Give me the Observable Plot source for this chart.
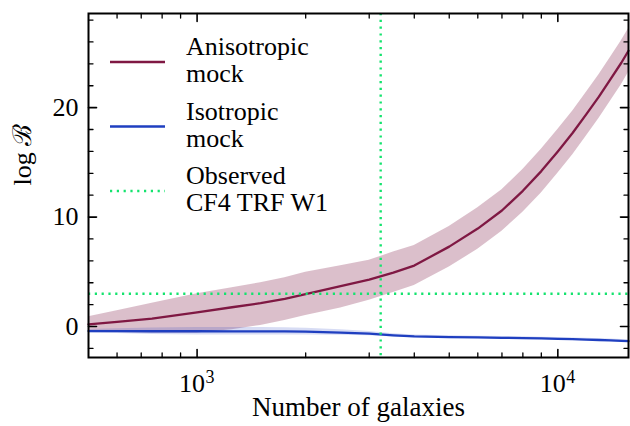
<!DOCTYPE html>
<html><head><meta charset="utf-8">
<script src="https://cdn.jsdelivr.net/npm/d3@7"></script>
<script src="https://cdn.jsdelivr.net/npm/@observablehq/plot@0.6"></script>
<style>
body{margin:0;background:#fff}
#chart{position:relative;width:630px;height:426px}
</style>
</head><body><div id="chart"></div>
<script>
// ---- data ----
const nGal      = [500, 600, 750, 1000, 1250, 1500, 1750, 2000, 2500, 3000, 3500, 4000, 5000, 6000, 7000, 8000, 9000, 10000, 11000, 12000, 13000, 14000, 15000, 15700];
const anisoMean = [0.2, 0.43, 0.72, 1.3, 1.76, 2.13, 2.53, 2.95, 3.69, 4.28, 4.93, 5.57, 7.3, 8.95, 10.6, 12.4, 14.2, 16.0, 17.7, 19.4, 21.0, 22.6, 24.1, 25.2];
const anisoLo   = [-0.5, -0.55, -0.6, -0.6, -0.3, 0.1, 0.55, 1.0, 1.7, 2.4, 3.1, 3.74, 5.45, 7.05, 8.7, 10.45, 12.2, 14.0, 15.7, 17.4, 19.0, 20.6, 22.1, 23.2];
const anisoHi   = [0.9, 1.45, 2.12, 3.0, 3.55, 4.0, 4.45, 4.96, 5.55, 6.05, 6.8, 7.4, 9.15, 10.85, 12.5, 14.35, 16.2, 18.0, 19.7, 21.4, 23.0, 24.6, 26.1, 27.2];
const isoMean   = [-0.42, -0.42, -0.43, -0.43, -0.44, -0.44, -0.45, -0.46, -0.55, -0.65, -0.8, -0.9, -0.96, -1.0, -1.03, -1.06, -1.09, -1.12, -1.16, -1.2, -1.23, -1.27, -1.31, -1.34];
const isoLo     = [-0.57, -0.64, -0.72, -0.78, -0.78, -0.78, -0.78, -0.77, -0.8, -0.85, -0.95, -1.03, -1.08, -1.12, -1.15, -1.18, -1.21, -1.24, -1.28, -1.32, -1.35, -1.39, -1.43, -1.46];
const isoHi     = [-0.27, -0.2, -0.14, -0.08, -0.1, -0.1, -0.12, -0.15, -0.3, -0.45, -0.65, -0.77, -0.84, -0.88, -0.91, -0.94, -0.97, -1.0, -1.04, -1.08, -1.11, -1.15, -1.19, -1.22];
const observedN = [3228];
const observedLogB = [3.0];
const xDomain = [500, 15700];
const yDomain = [-2.83, 28.6];
const xMajorTicks = [1000, 10000];
const xTickBase = "10";
const xTickExponents = ["3", "4"];
const xMinorTicks = [600, 700, 800, 900, 2000, 3000, 4000, 5000, 6000, 7000, 8000, 9000];
const yMajorTicks = [0, 10, 20];
const yMinorTicks = [-2, 2, 4, 6, 8, 12, 14, 16, 18, 22, 24, 26, 28];
const seriesLabels = [["Anisotropic", "mock"], ["Isotropic", "mock"], ["Observed", "CF4 TRF W1"]];
const xLabel = "Number of galaxies";
const yLabel = "log ℬ";

// ---- styles ----
const maroon = "#7f1843";
const blue = "#1f3fc0";
const green = "#14e36e";
const dotted = "2.2,4.6";
const font = "'Liberation Serif', 'DejaVu Serif', serif";

const aniso = nGal.map((n, i) => ({n, mean: anisoMean[i], lo: anisoLo[i], hi: anisoHi[i]}));
const iso = nGal.map((n, i) => ({n, mean: isoMean[i], lo: isoLo[i], hi: isoHi[i]}));

const tickShape = {draw(ctx, l) { ctx.moveTo(0, 0); ctx.lineTo(0, -l); }};
function ticks(values, ch, anchor, rotate, length, sw) {
  const o = {frameAnchor: anchor, rotate, length, shape: tickShape, anchor: "start", stroke: "black", strokeWidth: sw};
  o[ch] = d => d;
  return Plot.vector(values, o);
}

const plot = Plot.plot({
  width: 630, height: 426,
  marginLeft: 88, marginRight: 2, marginTop: 13, marginBottom: 69,
  style: {fontFamily: font, fontSize: "26px", background: "#fff", color: "#000"},
  x: {type: "log", domain: xDomain, axis: null},
  y: {domain: yDomain},
  marks: [
    Plot.areaY(aniso, {x: "n", y1: "lo", y2: "hi", fill: maroon, fillOpacity: 0.28}),
    Plot.areaY(iso, {x: "n", y1: "lo", y2: "hi", fill: blue, fillOpacity: 0.18}),
    Plot.lineY(iso, {x: "n", y: "mean", stroke: blue, strokeWidth: 2.3}),
    Plot.lineY(aniso, {x: "n", y: "mean", stroke: maroon, strokeWidth: 2.3}),
    Plot.ruleX(observedN, {x: d => d, stroke: green, strokeWidth: 2.4, strokeDasharray: dotted}),
    Plot.ruleY(observedLogB, {y: d => d, stroke: green, strokeWidth: 2.4, strokeDasharray: dotted}),
    ticks(xMajorTicks, "x", "bottom", 0, 8, 1.6),
    ticks(xMinorTicks, "x", "bottom", 0, 4.5, 1.3),
    ticks(xMajorTicks, "x", "top", 180, 8, 1.6),
    ticks(xMinorTicks, "x", "top", 180, 4.5, 1.3),
    ticks(yMajorTicks, "y", "left", 90, 8, 1.6),
    ticks(yMinorTicks, "y", "left", 90, 4.5, 1.3),
    ticks(yMajorTicks, "y", "right", -90, 8, 1.6),
    ticks(yMinorTicks, "y", "right", -90, 4.5, 1.3),
    // x tick labels: "10" with superscript exponent
    Plot.text(xMajorTicks, {x: d => d, text: () => xTickBase, frameAnchor: "bottom", dy: 34, dx: -5, fontSize: 26}),
    Plot.text(xMajorTicks, {x: d => d, text: (d, i) => xTickExponents[i], frameAnchor: "bottom", dy: 25, dx: 13, fontSize: 18}),
    Plot.axisY({ticks: yMajorTicks, tickSize: 0, tickPadding: 10, fontSize: 26, label: null}),
    Plot.text([xLabel], {text: d => d, frameAnchor: "bottom", dy: 58, fontSize: 27}),
    Plot.text([yLabel], {text: d => d, frameAnchor: "left", dx: -66, rotate: -90, fontSize: 26}),
    Plot.frame({stroke: "black", strokeWidth: 2})
  ]
});
document.getElementById("chart").appendChild(plot);

// ---- legend (drawn inside the frame, upper left) ----
const svg = d3.select(plot);
const lg = svg.append("g").attr("font-family", font).attr("font-size", 26).attr("text-anchor", "start");
const legendColors = [maroon, blue, green];
const legendDash = [null, null, dotted];
seriesLabels.forEach((lab, i) => {
  const cy = 62 + i * 64.5;
  lg.append("line").attr("x1", 110).attr("x2", 165).attr("y1", cy).attr("y2", cy)
    .attr("stroke", legendColors[i]).attr("stroke-width", i === 2 ? 2.4 : 2.3)
    .attr("stroke-dasharray", legendDash[i]);
  lab.forEach((s, j) => {
    lg.append("text").attr("x", 186).attr("y", cy - 7 + j * 27).attr("text-anchor", "start").text(s);
  });
});
</script>
</body></html>
